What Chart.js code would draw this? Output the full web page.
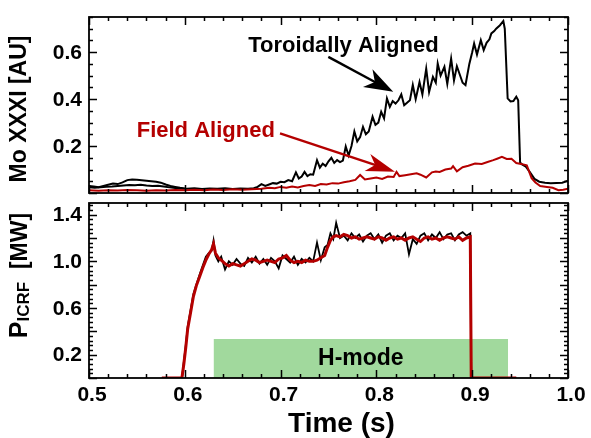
<!DOCTYPE html>
<html><head><meta charset="utf-8">
<script src="https://cdn.jsdelivr.net/npm/chart.js@4.4.1/dist/chart.umd.min.js"></script>
<style>
html,body{margin:0;padding:0;background:#fff;}
#wrap{position:relative;width:591px;height:438px;overflow:hidden;background:#fff;}
canvas{position:absolute;left:0;}
#c1{top:0;} #c2{top:195px;}
</style></head><body>
<div id="wrap"><canvas id="c1" width="591" height="200" style="width:591px;height:200px"></canvas><canvas id="c2" width="591" height="243" style="width:591px;height:243px"></canvas></div>
<script>
// ---------------- DATA ----------------
// Top panel: Mo XXXI brightness [AU]
const moTimeTor = [0.500,0.506,0.512,0.518,0.524,0.530,0.536,0.542,0.548,0.554,0.560,0.566,0.572,0.578,0.584,0.590,0.596,0.602,0.610,0.618,0.626,0.634,0.642,0.650,0.658,0.666,0.672,0.676,0.680,0.684,0.688,0.692,0.696,0.700,0.704,0.708,0.712,0.716,0.719,0.722,0.725,0.728,0.731,0.734,0.738,0.741,0.744,0.747,0.750,0.753,0.756,0.759,0.762,0.765,0.768,0.771,0.774,0.777,0.780,0.783,0.786,0.789,0.792,0.796,0.799,0.802,0.805,0.808,0.811,0.814,0.817,0.820,0.823,0.826,0.829,0.832,0.835,0.838,0.841,0.845,0.848,0.852,0.855,0.859,0.862,0.864,0.867,0.871,0.874,0.878,0.881,0.884,0.887,0.890,0.893,0.897,0.900,0.902,0.905,0.909,0.912,0.915,0.918,0.920,0.923,0.925,0.929,0.9325,0.934,0.937,0.940,0.943,0.946,0.948,0.950,0.952,0.956,0.960,0.965,0.970,0.976,0.982,0.988,0.994,1.000];
const moToroidal = [0.024,0.022,0.025,0.027,0.028,0.030,0.032,0.034,0.033,0.035,0.032,0.030,0.031,0.028,0.024,0.021,0.019,0.018,0.020,0.017,0.019,0.018,0.020,0.017,0.019,0.018,0.020,0.026,0.038,0.030,0.036,0.042,0.040,0.048,0.046,0.055,0.050,0.088,0.062,0.070,0.090,0.072,0.080,0.078,0.140,0.108,0.125,0.115,0.135,0.150,0.128,0.140,0.132,0.138,0.198,0.160,0.200,0.262,0.220,0.238,0.282,0.250,0.262,0.325,0.290,0.300,0.346,0.318,0.403,0.367,0.392,0.381,0.395,0.420,0.374,0.385,0.395,0.460,0.400,0.473,0.420,0.530,0.430,0.495,0.470,0.552,0.500,0.538,0.465,0.573,0.480,0.540,0.505,0.470,0.460,0.550,0.600,0.637,0.590,0.651,0.609,0.640,0.655,0.680,0.690,0.700,0.715,0.733,0.700,0.403,0.390,0.392,0.410,0.395,0.130,0.122,0.112,0.090,0.060,0.048,0.044,0.042,0.043,0.044,0.052];
const moTimeTor2 = [0.500,0.505,0.510,0.515,0.520,0.525,0.530,0.535,0.540,0.545,0.550,0.555,0.560,0.565,0.570,0.575,0.580,0.585,0.590,0.595,0.600];
const moToroidal2 = [0.030,0.028,0.025,0.030,0.035,0.040,0.038,0.045,0.055,0.058,0.056,0.054,0.052,0.050,0.048,0.044,0.036,0.030,0.026,0.022,0.019];
const moTimeField = [0.500,0.510,0.520,0.530,0.540,0.550,0.560,0.570,0.580,0.590,0.600,0.610,0.620,0.630,0.640,0.650,0.660,0.670,0.680,0.688,0.694,0.700,0.706,0.712,0.718,0.724,0.730,0.736,0.742,0.748,0.754,0.760,0.766,0.772,0.778,0.783,0.788,0.794,0.800,0.806,0.812,0.818,0.821,0.824,0.830,0.836,0.842,0.846,0.852,0.858,0.862,0.866,0.872,0.878,0.880,0.884,0.890,0.896,0.903,0.910,0.916,0.922,0.926,0.931,0.936,0.941,0.946,0.951,0.957,0.962,0.966,0.971,0.978,0.984,0.990,0.995,1.000];
const moField = [0.012,0.010,0.012,0.011,0.013,0.012,0.010,0.012,0.011,0.013,0.012,0.014,0.012,0.015,0.013,0.016,0.014,0.016,0.018,0.022,0.020,0.026,0.022,0.028,0.024,0.030,0.034,0.030,0.038,0.036,0.042,0.040,0.046,0.050,0.056,0.077,0.058,0.062,0.066,0.060,0.070,0.068,0.090,0.072,0.076,0.080,0.084,0.078,0.066,0.088,0.092,0.090,0.100,0.104,0.114,0.092,0.110,0.116,0.126,0.124,0.132,0.140,0.146,0.154,0.145,0.146,0.128,0.124,0.118,0.063,0.045,0.030,0.026,0.022,0.012,0.014,0.018];

// Bottom panel: P_ICRF [MW]
const pTime = [0.576,0.597,0.599,0.601,0.603,0.606,0.609,0.612,0.616,0.619,0.622,0.625,0.628,0.630,0.632,0.635,0.638,
0.642,0.646,0.650,0.654,0.658,0.662,0.666,0.670,0.674,0.678,0.682,0.686,0.690,0.694,0.698,0.702,0.706,0.710,0.714,0.718,0.722,0.726,0.730,0.734,0.738,0.742,0.746,
0.749,0.752,0.755,0.758,
0.762,0.766,0.770,0.774,0.778,0.782,0.786,0.790,0.794,0.798,0.802,0.806,0.810,0.814,0.818,0.822,0.826,0.830,0.834,0.838,0.842,0.846,0.850,0.854,0.858,0.862,0.866,0.870,0.874,0.878,0.882,0.886,0.890,0.894,0.898,
0.899,0.946];
const pToroidal = [0,0,0.14,0.28,0.44,0.58,0.72,0.80,0.90,0.97,1.04,1.07,1.09,1.18,1.05,1.00,1.04,
0.93,1.00,0.97,1.02,0.98,0.96,1.03,0.99,1.04,0.98,1.02,0.97,1.03,1.00,0.94,1.05,1.02,0.99,1.04,0.97,1.02,0.99,1.03,1.00,1.16,1.01,1.12,
1.14,1.24,1.19,1.33,
1.20,1.22,1.18,1.24,1.20,1.23,1.17,1.22,1.24,1.19,1.23,1.16,1.22,1.24,1.18,1.22,1.20,1.24,1.06,1.19,1.15,1.22,1.24,1.18,1.23,1.20,1.25,1.19,1.23,1.24,1.18,1.23,1.25,1.22,1.24,
0,0];
const pField = [0,0,0.12,0.26,0.42,0.56,0.70,0.79,0.88,0.95,1.01,1.06,1.10,1.15,1.07,1.03,1.01,
0.98,0.96,0.98,0.97,0.96,0.98,1.00,1.02,1.01,0.99,1.00,1.01,1.00,0.99,1.02,1.03,1.05,1.01,0.99,1.00,0.99,1.01,1.00,1.00,1.01,1.03,1.05,
1.12,1.18,1.21,1.22,
1.21,1.23,1.22,1.20,1.21,1.19,1.20,1.21,1.20,1.19,1.21,1.20,1.18,1.20,1.21,1.19,1.20,1.18,1.20,1.21,1.19,1.17,1.20,1.21,1.19,1.20,1.18,1.20,1.21,1.20,1.19,1.21,1.18,1.20,1.21,
0,0];

// H-mode interval
const hmodeTimes = [0.63, 0.9375];
const hmodeLevel = 0.335;

// Axes
const xRange = [0.5, 1.0];
const moRange = [0, 0.75];
const pRange = [0, 1.5];
const xTickValues = [0.5,0.6,0.7,0.8,0.9,1.0];
const xTickLabels = ['0.5','0.6','0.7','0.8','0.9','1.0'];
const moTickValues = [0.2,0.4,0.6];
const moTickLabels = ['0.2','0.4','0.6'];
const pTickValues = [0.2,0.6,1.0,1.4];
const pTickLabels = ['0.2','0.6','1.0','1.4'];

// ---------------- DRAWING ----------------
const FONT = "'Liberation Sans', Arial, Helvetica, sans-serif";
const RED = '#b40000';
const pts = (ts, vs) => ts.map((t, i) => ({x: t, y: vs[i]}));

// list of [value, isMajor] for inward tick marks
function tickList(lo, hi, minor, major) {
  const out = [];
  const n = Math.round((hi - lo) / minor);
  for (let k = 0; k <= n; k++) {
    const v = lo + k * minor;
    if (v > hi + 1e-9) break;
    out.push([v, Math.abs(v / major - Math.round(v / major)) < 1e-6]);
  }
  return out;
}

function arrow(ctx, x0, y0, x1, y1, color, w, hl, hw) {
  const dx = x1 - x0, dy = y1 - y0, dist = Math.hypot(dx, dy);
  const ux = dx / dist, uy = dy / dist, qx = -uy, qy = ux;
  ctx.save();
  ctx.strokeStyle = color; ctx.fillStyle = color; ctx.lineWidth = w;
  ctx.beginPath(); ctx.moveTo(x0, y0); ctx.lineTo(x1 - ux * hl * 0.7, y1 - uy * hl * 0.7); ctx.stroke();
  ctx.beginPath();
  ctx.moveTo(x1, y1);
  ctx.lineTo(x1 - ux * hl + qx * hw, y1 - uy * hl + qy * hw);
  ctx.lineTo(x1 - ux * hl * 0.72, y1 - uy * hl * 0.72);
  ctx.lineTo(x1 - ux * hl - qx * hw, y1 - uy * hl - qy * hw);
  ctx.closePath(); ctx.fill();
  ctx.restore();
}

function decoPlugin(o) {
  const xt = tickList(xRange[0], xRange[1], o.xMinor, o.xMajor);
  const yt = tickList(o.yRange[0], o.yRange[1], o.yMinor, o.yMajor);
  return {
    id: 'panelDeco',
    afterDraw(chart) {
      const ctx = chart.ctx, a = chart.chartArea, sx = chart.scales.x, sy = chart.scales.y;
      ctx.save();
      // inward tick marks on all four sides
      ctx.strokeStyle = '#000';
      ctx.lineWidth = 1.5;
      ctx.beginPath();
      xt.forEach(([v, maj]) => {
        const tl = maj ? o.majorLen : o.minorLen;
        const px = Math.round(sx.getPixelForValue(v)) + 0.5;
        ctx.moveTo(px, a.bottom); ctx.lineTo(px, a.bottom - tl);
        ctx.moveTo(px, a.top); ctx.lineTo(px, a.top + tl);
      });
      yt.forEach(([v, maj]) => {
        const tl = maj ? o.majorLen : o.minorLen;
        const py = Math.round(sy.getPixelForValue(v)) + 0.5;
        ctx.moveTo(a.left, py); ctx.lineTo(a.left + tl, py);
        ctx.moveTo(a.right, py); ctx.lineTo(a.right - tl, py);
      });
      ctx.stroke();
      // frame
      ctx.lineWidth = 1.8;
      ctx.strokeRect(a.left, a.top, a.right - a.left, a.bottom - a.top);
      // y tick labels
      ctx.font = 'bold 21px ' + FONT;
      ctx.fillStyle = '#000'; ctx.textAlign = 'right'; ctx.textBaseline = 'middle';
      o.yTicks.forEach((v, i) => ctx.fillText(o.yLabels[i], a.left - 7, sy.getPixelForValue(v) + 1));
      // arrows and texts
      (o.arrows || []).forEach(r => arrow(ctx, sx.getPixelForValue(r.t0), sy.getPixelForValue(r.v0), sx.getPixelForValue(r.t1), sy.getPixelForValue(r.v1), r.color, r.width, r.hl, r.hw));
      (o.texts || []).forEach(s => {
        ctx.font = 'bold ' + s.size + 'px ' + FONT;
        ctx.fillStyle = s.color; ctx.textAlign = s.align || 'left'; ctx.textBaseline = s.baseline || 'alphabetic';
        ctx.fillText(s.text, sx.getPixelForValue(s.t), sy.getPixelForValue(s.v));
      });
      // rotated y title (parts allow a subscript)
      const ytl = o.ytitle;
      ctx.save();
      ctx.translate(ytl.x, (a.top + a.bottom) / 2 + ytl.dy);
      ctx.rotate(-Math.PI / 2);
      ctx.fillStyle = '#000'; ctx.textAlign = 'left'; ctx.textBaseline = 'alphabetic';
      let total = 0;
      ytl.parts.forEach(p => { ctx.font = 'bold ' + p.size + 'px ' + FONT; total += ctx.measureText(p.text).width; });
      let pos = -total / 2;
      ytl.parts.forEach(p => { ctx.font = 'bold ' + p.size + 'px ' + FONT; ctx.fillText(p.text, pos, p.shift); pos += ctx.measureText(p.text).width; });
      ctx.restore();
      if (o.xtitle) {
        ctx.font = 'bold ' + o.xtitle.size + 'px ' + FONT;
        ctx.fillStyle = '#000'; ctx.textAlign = 'center'; ctx.textBaseline = 'alphabetic';
        ctx.fillText(o.xtitle.text, (a.left + a.right) / 2 + o.xtitle.dx, o.xtitle.y);
      }
      ctx.restore();
    }
  };
}

const tickFont = {family: FONT, size: 21, weight: 'bold'};

function common(yr, showX, xHeight, padTop) {
  return {
    responsive: false, animation: false,
    layout: {padding: {left: 0, right: 23, top: padTop, bottom: 0}},
    plugins: {legend: {display: false}, tooltip: {enabled: false}},
    scales: {
      x: {
        type: 'linear', min: xRange[0], max: xRange[1],
        grid: {display: false, drawTicks: false}, border: {display: false},
        afterBuildTicks: s => { s.ticks = xTickValues.map(v => ({value: v})); },
        ticks: {display: showX, font: tickFont, color: '#000', padding: 5, autoSkip: false, maxRotation: 0, labelOffset: 3,
          callback: (v, i) => xTickLabels[i]},
        afterFit: s => { s.height = xHeight; }
      },
      y: {
        type: 'linear', min: yr[0], max: yr[1],
        grid: {display: false, drawTicks: false}, border: {display: false},
        ticks: {display: false},
        afterFit: s => { s.width = 89; }
      }
    }
  };
}

// Top chart
new Chart(document.getElementById('c1'), {
  type: 'line',
  data: {datasets: [
    {data: pts(moTimeField, moField), borderColor: RED, borderWidth: 2, pointRadius: 0, tension: 0, order: 0},
    {data: pts(moTimeTor, moToroidal), borderColor: '#000', borderWidth: 2, pointRadius: 0, tension: 0, order: 1},
    {data: pts(moTimeTor2, moToroidal2), borderColor: '#000', borderWidth: 2, pointRadius: 0, tension: 0, order: 2}
  ]},
  options: common(moRange, false, 7, 17),
  plugins: [decoPlugin({
    yRange: moRange, xMajor: 0.1, xMinor: 0.02, yMajor: 0.2, yMinor: 0.05, majorLen: 8, minorLen: 4,
    yTicks: moTickValues, yLabels: moTickLabels,
    arrows: [
      {t0: 0.7498, v0: 0.580, t1: 0.8176, v1: 0.431, color: '#000', width: 2.4, hl: 29, hw: 10},
      {t0: 0.6994, v0: 0.254, t1: 0.8194, v1: 0.091, color: RED, width: 2.4, hl: 29, hw: 9}
    ],
    texts: [
      {t: 0.6663, v: 0.601, text: 'Toroidally Aligned', color: '#000', size: 22},
      {t: 0.5498, v: 0.237, text: 'Field Aligned', color: RED, size: 22}
    ],
    ytitle: {x: 26, dy: 4, parts: [{text: 'Mo XXXI [AU]', size: 23, shift: 0}]}
  })]
});

// Bottom chart
new Chart(document.getElementById('c2'), {
  type: 'line',
  data: {datasets: [
    {data: pts(pTime, pField), borderColor: RED, borderWidth: 3, pointRadius: 0, tension: 0, order: 0},
    {data: pts(pTime, pToroidal), borderColor: '#000', borderWidth: 1.8, pointRadius: 0, tension: 0, order: 1},
    {data: hmodeTimes.map(t => ({x: t, y: hmodeLevel})), borderWidth: 0, borderColor: 'rgba(0,0,0,0)', backgroundColor: 'rgb(161,217,157)', fill: 'origin', pointRadius: 0, order: 2}
  ]},
  options: common(pRange, true, 60, 8),
  plugins: [decoPlugin({
    yRange: pRange, xMajor: 0.1, xMinor: 0.02, yMajor: 0.2, yMinor: 0.04, majorLen: 8, minorLen: 4,
    yTicks: pTickValues, yLabels: pTickLabels,
    texts: [
      {t: (hmodeTimes[0] + hmodeTimes[1]) / 2, v: hmodeLevel / 2, text: 'H-mode', color: '#000', size: 23, align: 'center', baseline: 'middle'}
    ],
    ytitle: {x: 27, dy: -15, parts: [{text: 'P', size: 25, shift: 0}, {text: 'ICRF', size: 17, shift: 2}, {text: '  [MW]', size: 23, shift: 0}]},
    xtitle: {text: 'Time (s)', size: 28, dx: 13, y: 237}
  })]
});
</script>
</body></html>
